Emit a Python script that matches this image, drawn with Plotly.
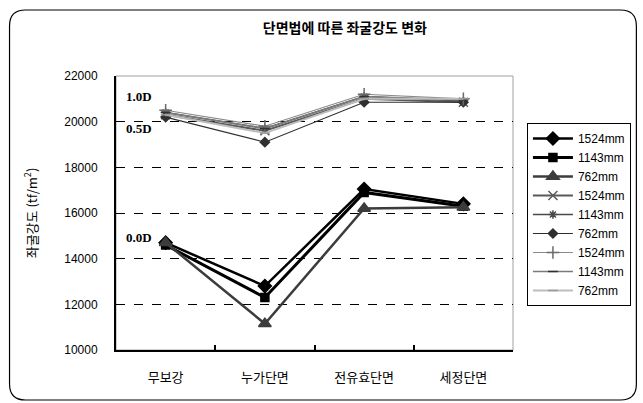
import plotly.graph_objects as go

# Section methods (x categories)
categories = ["무보강", "누가단면", "전유효단면", "세정단면"]

# Buckling strength (tf/m²) per pile diameter
d00_1524 = [14700, 12800, 17050, 16400]
d00_1143 = [14600, 12300, 16900, 16300]
d00_762 = [14700, 11150, 16200, 16250]

d05_1524 = [20300, 19600, 21000, 20850]
d05_1143 = [20400, 19700, 21100, 20900]
d05_762 = [20200, 19100, 20850, 20850]

d10_1524 = [20500, 19800, 21200, 21000]
d10_1143 = [20400, 19700, 21100, 20950]
d10_762 = [20300, 19500, 21000, 21000]

labels = ["1524mm", "1143mm", "762mm"] * 3
series = [d00_1524, d00_1143, d00_762,
          d05_1524, d05_1143, d05_762,
          d10_1524, d10_1143, d10_762]

styles = [
    dict(lc="#000000", lw=2.5, sym="diamond", ms=10, mc="#000000"),
    dict(lc="#000000", lw=3, sym="square", ms=8, mc="#000000"),
    dict(lc="#3c3c3c", lw=2.5, sym="triangle-up", ms=11, mc="#3c3c3c"),
    dict(lc="#5a5a5a", lw=2, sym="x-thin-open", ms=9, mc="#5a5a5a"),
    dict(lc="#4a4a4a", lw=1.5, sym="asterisk-open", ms=7, mc="#4a4a4a"),
    dict(lc="#303030", lw=1.2, sym="diamond", ms=7, mc="#303030"),
    dict(lc="#8a8a8a", lw=1.2, sym="cross-thin-open", ms=9, mc="#6a6a6a"),
    dict(lc="#7a7a7a", lw=1.5, sym="line-ew-open", ms=7, mc="#303030"),
    dict(lc="#bdbdbd", lw=2, sym="line-ew-open", ms=7, mc="#9a9a9a"),
]

fig = go.Figure()
for name, vals, st in zip(labels, series, styles):
    fig.add_trace(go.Scatter(
        x=categories, y=vals, name=name, mode="lines+markers",
        line=dict(color=st["lc"], width=st["lw"]),
        marker=dict(symbol=st["sym"], size=st["ms"], color=st["mc"],
                    line=dict(color=st["mc"], width=1.5)),
    ))

W, H = 643, 403
L, R, T, B = 116, 128, 76, 53
pw, ph = W - L - R, H - T - B


def px(x):
    return (x - L) / pw


def py(y):
    return 1 - (y - T) / ph


# rounded outer frame in paper coordinates
x0, x1, y0, y1, r = 9, 639, 10, 400, 16
rx, ry = r / pw, r / ph
frame = (
    f"M {px(x0) + rx},{py(y0)} L {px(x1) - rx},{py(y0)} "
    f"Q {px(x1)},{py(y0)} {px(x1)},{py(y0) - ry} "
    f"L {px(x1)},{py(y1) + ry} Q {px(x1)},{py(y1)} {px(x1) - rx},{py(y1)} "
    f"L {px(x0) + rx},{py(y1)} Q {px(x0)},{py(y1)} {px(x0)},{py(y1) + ry} "
    f"L {px(x0)},{py(y0) - ry} Q {px(x0)},{py(y0)} {px(x0) + rx},{py(y0)} Z"
)

font_main = "Liberation Sans, Noto Sans CJK KR, sans-serif"
font_kr = "Noto Sans CJK KR, sans-serif"

fig.update_layout(
    template="none",
    width=W, height=H,
    margin=dict(l=L, r=R, t=T, b=B),
    paper_bgcolor="white", plot_bgcolor="white",
    font=dict(family=font_main, size=12, color="#000000"),
    title=dict(text="<b>단면법에 따른 좌굴강도 변화</b>", x=px(330), xanchor="center",
               y=1 - 28 / H, yanchor="middle",
               font=dict(family=font_kr, size=14, color="#000000")),
    showlegend=True,
    legend=dict(x=px(529), y=py(123), xanchor="left", yanchor="top",
                bordercolor="#000000", borderwidth=1, bgcolor="white",
                font=dict(family=font_main, size=12, color="#000000"),
                tracegroupgap=0, itemwidth=40),
    shapes=[
        dict(type="path", path=frame, xref="paper", yref="paper",
             line=dict(color="#000000", width=1.2)),
        dict(type="rect", xref="paper", yref="paper", x0=0, x1=1, y0=0, y1=1,
             line=dict(color="#a0a0a0", width=1), layer="below"),
    ],
)

fig.update_xaxes(
    type="category", range=[-0.5, 3.5],
    showline=True, linecolor="#000000", linewidth=2,
    ticks="inside", ticklen=5, tickwidth=2, tickcolor="#000000",
    tickson="boundaries", showgrid=False,
    ticklabelstandoff=14,
    tickfont=dict(family=font_kr, size=13, color="#000000"),
)
fig.update_yaxes(
    range=[10000, 22000], tickvals=[10000, 12000, 14000, 16000, 18000, 20000, 22000],
    ticktext=["10000", "12000", "14000", "16000", "18000", "20000", "22000"],
    showline=True, linecolor="#000000", linewidth=2,
    showgrid=True, gridcolor="#000000", gridwidth=1, griddash="dash",
    zeroline=False, ticks="", ticklabelstandoff=14,
    tickfont=dict(family=font_main, size=12, color="#000000"),
    title=dict(text="좌굴강도 (tf/m<sup>2</sup>)", standoff=24,
               font=dict(family=font_kr, size=13, color="#000000")),
)

# depth labels beside the first points
for txt, ytext in [("1.0D", 97), ("0.5D", 128), ("0.0D", 237)]:
    fig.add_annotation(
        text=f"<b>{txt}</b>", xref="paper", yref="paper",
        x=px(124), y=py(ytext), xanchor="left", yanchor="middle",
        showarrow=False,
        font=dict(family="Liberation Serif, DejaVu Serif, serif", size=13, color="#000000"),
    )

fig.write_html("out.html")
